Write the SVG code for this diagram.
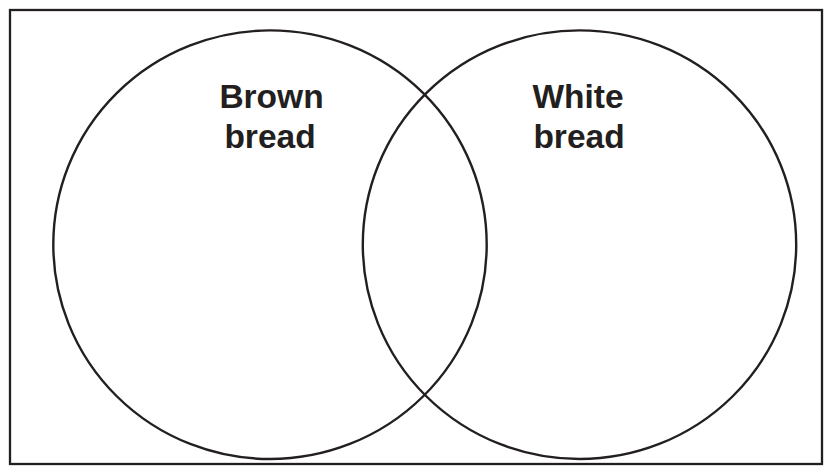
<svg xmlns="http://www.w3.org/2000/svg" width="830" height="472" viewBox="0 0 830 472">
  <style>
    .frame { fill: #ffffff; stroke: #231f20; stroke-width: 2.3; }
    .set { fill: none; stroke: #231f20; stroke-width: 2.4; }
    .label { font-family: "Liberation Sans", Arial, sans-serif; font-weight: bold; font-size: 33.5px; fill: #231f20; text-anchor: middle; }
  </style>
  <rect class="frame" x="10" y="10" width="812" height="454"/>
  <g id="brown-bread">
    <ellipse class="set" cx="270" cy="244.7" rx="216.7" ry="214.3"/>
    <text class="label" x="271.5" y="107.5">Brown</text>
    <text class="label" x="270" y="148">bread</text>
  </g>
  <g id="white-bread">
    <ellipse class="set" cx="579.5" cy="244.7" rx="216.7" ry="214.3"/>
    <text class="label" x="578" y="107.5">White</text>
    <text class="label" x="579" y="148">bread</text>
  </g>
  <g id="connectors"/>
</svg>
